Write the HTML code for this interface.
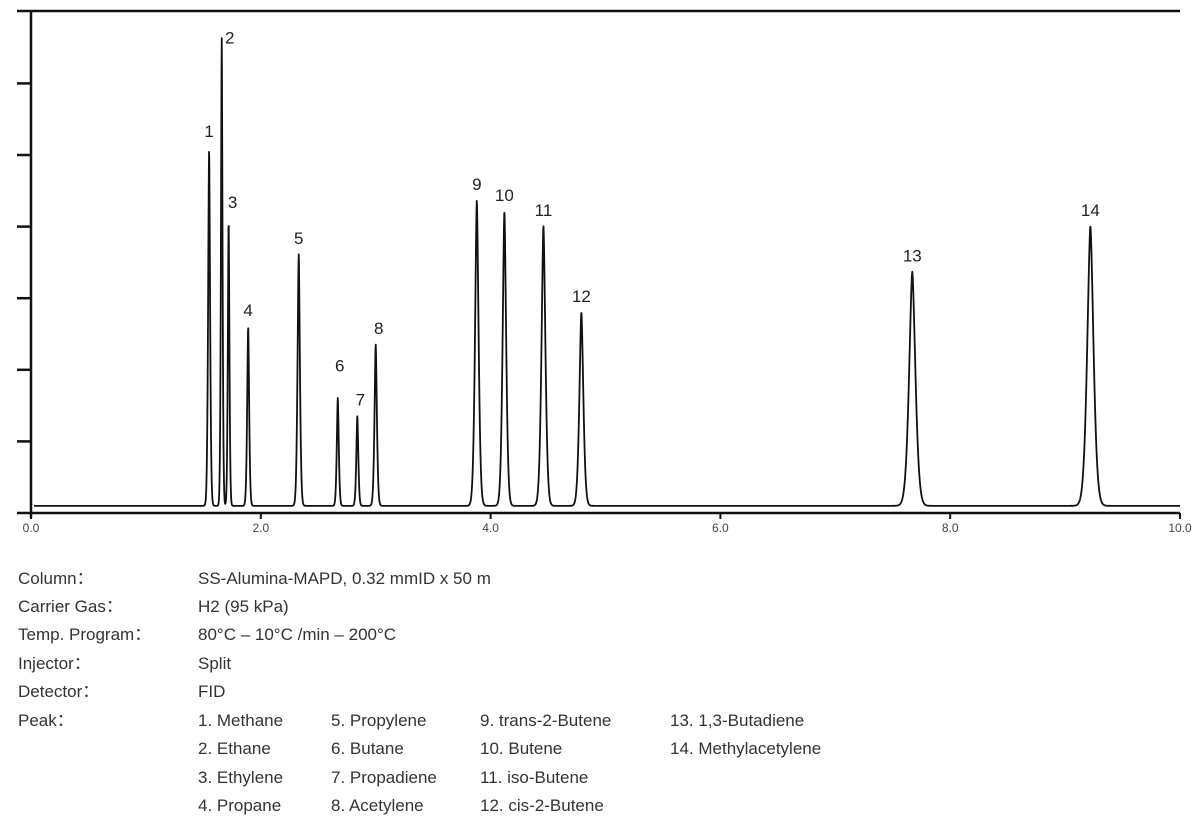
<!DOCTYPE html>
<html><head><meta charset="utf-8"><style>
body{margin:0;width:1200px;height:827px;background:#fff;overflow:hidden;font-family:"Liberation Sans","Noto Sans CJK SC",sans-serif;}
.t{position:absolute;font-size:17px;color:#333;white-space:nowrap;line-height:20px;}
</style></head><body>
<svg id="chart" width="1200" height="560" style="position:absolute;left:0;top:0" xmlns="http://www.w3.org/2000/svg"></svg>
<div id="info"></div>
<script>
const peakLabels=["1","2","3","4","5","6","7","8","9","10","11","12","13","14"];
const peakTimes=[1.55,1.66,1.72,1.89,2.33,2.67,2.84,3.00,3.88,4.12,4.46,4.79,7.67,9.22];
const peakHeights=[5.01,6.54,4.02,2.51,3.52,1.51,1.26,2.26,4.27,4.12,3.91,2.71,3.27,3.91];
const peakWidths=[0.010,0.008,0.008,0.010,0.012,0.010,0.010,0.012,0.018,0.018,0.020,0.020,0.032,0.032];
const xTicks=[0,2,4,6,8,10];
const xTickLabels=["0.0","2.0","4.0","6.0","8.0","10.0"];
const yTicks=[1,2,3,4,5,6];
const baseline=0.1;

const NS="http://www.w3.org/2000/svg";
const svg=document.getElementById('chart');
const X0=31,X1=1180,Y0=513,UNIT=71.6;
const sx=t=>X0+(t/10)*(X1-X0);
const sy=v=>Y0-v*UNIT;
function el(tag,attrs,parent){const e=document.createElementNS(NS,tag);for(const k in attrs)e.setAttribute(k,attrs[k]);(parent||svg).appendChild(e);return e;}

const topBorder=el('line',{x1:17,y1:11,x2:X1,y2:11,stroke:'#111','stroke-width':2.5});


const ya=el('line',{x1:X0,y1:10,x2:X0,y2:Y0+5,stroke:'#111','stroke-width':2.5});


const xa=el('line',{x1:17,y1:Y0,x2:X1,y2:Y0,stroke:'#111','stroke-width':2.5});


yTicks.forEach(v=>{const l=el('line',{x1:17,y1:sy(v),x2:X0,y2:sy(v),stroke:'#111','stroke-width':2.5});

});
xTicks.forEach((v,i)=>{const l=el('line',{x1:sx(v),y1:Y0,x2:sx(v),y2:Y0+6,stroke:'#111','stroke-width':2});


const t=el('text',{x:sx(v),y:Y0+19,'font-size':12,fill:'#444','text-anchor':'middle','font-family':'Liberation Sans, sans-serif'});
t.textContent=xTickLabels[i];

});

let d='';
for(let px=X0+3;px<=X1;px+=0.25){
  const t=(px-X0)/(X1-X0)*10;
  let v=baseline;
  for(let i=0;i<peakTimes.length;i++){const z=(t-peakTimes[i])/peakWidths[i];if(Math.abs(z)<6)v+=peakHeights[i]*Math.exp(-Math.pow(Math.abs(z),1.6)/1.4);}
  d+=(d?'L':'M')+px.toFixed(2)+','+sy(v).toFixed(2);
}
const tr=el('path',{d:d,fill:'none',stroke:'#111','stroke-width':1.8,'stroke-linejoin':'round'});


peakLabels.forEach((lab,i)=>{
  let x=sx(peakTimes[i]),y=sy(peakHeights[i]+baseline)-10;
  if(lab==='2'){x+=8;y+=16;} if(lab==='3'){x+=4;}
  if(lab==='6'){y-=16;x+=2;} if(lab==='7'){x+=3;}
  if(lab==='8'){x+=3;}
  const t=el('text',{x:x,y:y,'font-size':17,fill:'#222','text-anchor':'middle','font-family':'Liberation Sans, sans-serif'});
  t.textContent=lab;
  
  
});

const info=document.getElementById('info');
const rows=[["Column：","SS-Alumina-MAPD, 0.32 mmID x 50 m",578],["Carrier Gas：","H2 (95 kPa)",606],["Temp. Program：","80°C – 10°C /min – 200°C",634],["Injector：","Split",663],["Detector：","FID",691],["Peak：","",720]];
rows.forEach(r=>{
  const a=document.createElement('div');a.className='t';a.style.left='18px';a.style.top=(r[2]-9)+'px';a.textContent=r[0];
  
  
  info.appendChild(a);
  if(r[1]){const b=document.createElement('div');b.className='t';b.style.left='198px';b.style.top=(r[2]-9)+'px';b.textContent=r[1];
  
  
  info.appendChild(b);}
});
const names=["1. Methane","2. Ethane","3. Ethylene","4. Propane","5. Propylene","6. Butane","7. Propadiene","8. Acetylene","9. trans-2-Butene","10. Butene","11. iso-Butene","12. cis-2-Butene","13. 1,3-Butadiene","14. Methylacetylene"];
const colX=[198,331,480,670];const rowY=[720,748,777,805];
names.forEach((n,i)=>{
  const c=document.createElement('div');c.className='t';
  c.style.left=colX[Math.floor(i/4)]+'px';c.style.top=(rowY[i%4]-9)+'px';c.textContent=n;
  
  
  info.appendChild(c);
});
</script>
</body></html>
